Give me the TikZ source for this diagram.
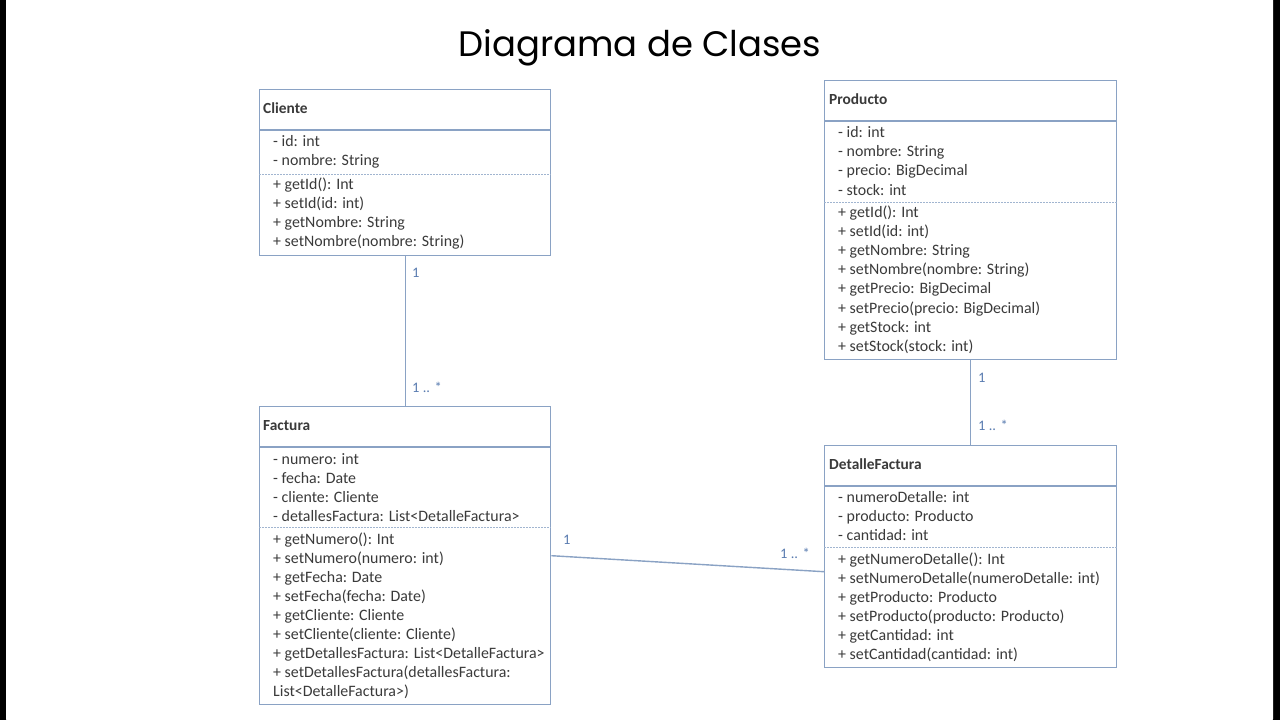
\documentclass[tikz,border=0pt]{standalone}
\usepackage{fontspec}
\setmainfont{Carlito}
\newfontfamily\titlefont{Poppins}
\definecolor{bord}{HTML}{8AA2C4}
\definecolor{txtc}{HTML}{3A3A3A}
\definecolor{lblc}{HTML}{5B7DB1}
\tikzset{
  cls/.style={draw=bord, line width=1.4pt, fill=white, rectangle, inner sep=0pt, anchor=north west},
  sepline/.style={draw=bord, line width=1.3pt},
  dashsep/.style={draw=bord!80, line width=0.8pt, dash pattern=on 2pt off 1pt},
  txt/.style={inner sep=0pt, anchor=base west, text=txtc, font=\fontsize{15.9}{18}\selectfont},
  ttl/.style={inner sep=0pt, anchor=base west, text=txtc, font=\bfseries\fontsize{15.4}{18}\selectfont},
  conn/.style={draw=bord, line width=1.4pt},
  lbl/.style={inner sep=0pt, anchor=base west, text=lblc, font=\fontsize{14.5}{16}\selectfont}
}
\begin{document}
\begin{tikzpicture}[x=1pt,y=-1pt]
\useasboundingbox (0,0) rectangle (1280,720);
\fill[black] (0,0) rectangle (1280,720);
\fill[white, rounded corners=3pt] (6,-3) rectangle (1273,722);

\node[inner sep=0pt, text=black, font=\titlefont\fontsize{35.4}{40}\selectfont] (title) at (640,48) {Diagrama de Clases};

% ---------- Cliente ----------
\node[cls, minimum width=291pt, minimum height=166pt] (cliente) at (259,89) {};
\node[ttl] (clit) at (263,113.5) {Cliente};
\draw[sepline] (cliente.west |- 0,130) -- (cliente.east |- 0,130);
\foreach \t [count=\i from 0] in {{- id: int},{- nombre: String}}
  \node[txt] (clia\i) at (273,146.5+19.2*\i) {\t};
\draw[dashsep] (cliente.west |- 0,174) -- (cliente.east |- 0,174);
\foreach \t [count=\i from 0] in {{+ getId(): Int},{+ setId(id: int)},{+ getNombre: String},{+ setNombre(nombre: String)}}
  \node[txt] (clim\i) at (273,189.5+19.1*\i) {\t};

% ---------- Producto ----------
\node[cls, minimum width=292pt, minimum height=279pt] (producto) at (824,80) {};
\node[ttl] (prot) at (829,104.5) {Producto};
\draw[sepline] (producto.west |- 0,121) -- (producto.east |- 0,121);
\foreach \t [count=\i from 0] in {{- id: int},{- nombre: String},{- precio: BigDecimal},{- stock: int}}
  \node[txt] (proa\i) at (838,137.5+19.2*\i) {\t};
\draw[dashsep] (producto.west |- 0,202) -- (producto.east |- 0,202);
\foreach \t [count=\i from 0] in {{+ getId(): Int},{+ setId(id: int)},{+ getNombre: String},{+ setNombre(nombre: String)},{+ getPrecio: BigDecimal},{+ setPrecio(precio: BigDecimal)},{+ getStock: int},{+ setStock(stock: int)}}
  \node[txt] (prom\i) at (838,217.5+19.1*\i) {\t};

% ---------- Factura ----------
\node[cls, minimum width=291pt, minimum height=298pt] (factura) at (259,406) {};
\node[ttl] (fact) at (263,430.5) {Factura};
\draw[sepline] (factura.west |- 0,447) -- (factura.east |- 0,447);
\foreach \t [count=\i from 0] in {{- numero: int},{- fecha: Date},{- cliente: Cliente},{- detallesFactura: List<DetalleFactura>}}
  \node[txt] (faca\i) at (273,464.5+19.1*\i) {\t};
\draw[dashsep] (factura.west |- 0,527) -- (factura.east |- 0,527);
\foreach \t [count=\i from 0] in {{+ getNumero(): Int},{+ setNumero(numero: int)},{+ getFecha: Date},{+ setFecha(fecha: Date)},{+ getCliente: Cliente},{+ setCliente(cliente: Cliente)},{+ getDetallesFactura: List<DetalleFactura>},{+ setDetallesFactura(detallesFactura:},{List<DetalleFactura>)}}
  \node[txt] (facm\i) at (273,544.5+19.0*\i) {\t};

% ---------- DetalleFactura ----------
\node[cls, minimum width=292pt, minimum height=222pt] (detalle) at (824,445) {};
\node[ttl] (dett) at (829,469.5) {DetalleFactura};
\draw[sepline] (detalle.west |- 0,486) -- (detalle.east |- 0,486);
\foreach \t [count=\i from 0] in {{- numeroDetalle: int},{- producto: Producto},{- cantidad: int}}
  \node[txt] (deta\i) at (838,502.5+19.1*\i) {\t};
\draw[dashsep] (detalle.west |- 0,547) -- (detalle.east |- 0,547);
\foreach \t [count=\i from 0] in {{+ getNumeroDetalle(): Int},{+ setNumeroDetalle(numeroDetalle: int)},{+ getProducto: Producto},{+ setProducto(producto: Producto)},{+ getCantidad: int},{+ setCantidad(cantidad: int)}}
  \node[txt] (detm\i) at (838,564.5+18.9*\i) {\t};

% ---------- Connectors ----------
\draw[conn] (cliente.south) -- (factura.north);
\node[lbl] (l1a) at (412,277) {1};
\node[lbl] (l1b) at (412,392) {1 .. *};

\draw[conn] (producto.south) -- (detalle.north);
\node[lbl] (l2a) at (978,382) {1};
\node[lbl] (l2b) at (978,430) {1 .. *};

\draw[conn] (factura.east) -- ([yshift=-15pt]detalle.west);
\node[lbl] (l3a) at (563,544) {1};
\node[lbl] (l3b) at (780,558) {1 .. *};
\end{tikzpicture}
\end{document}
